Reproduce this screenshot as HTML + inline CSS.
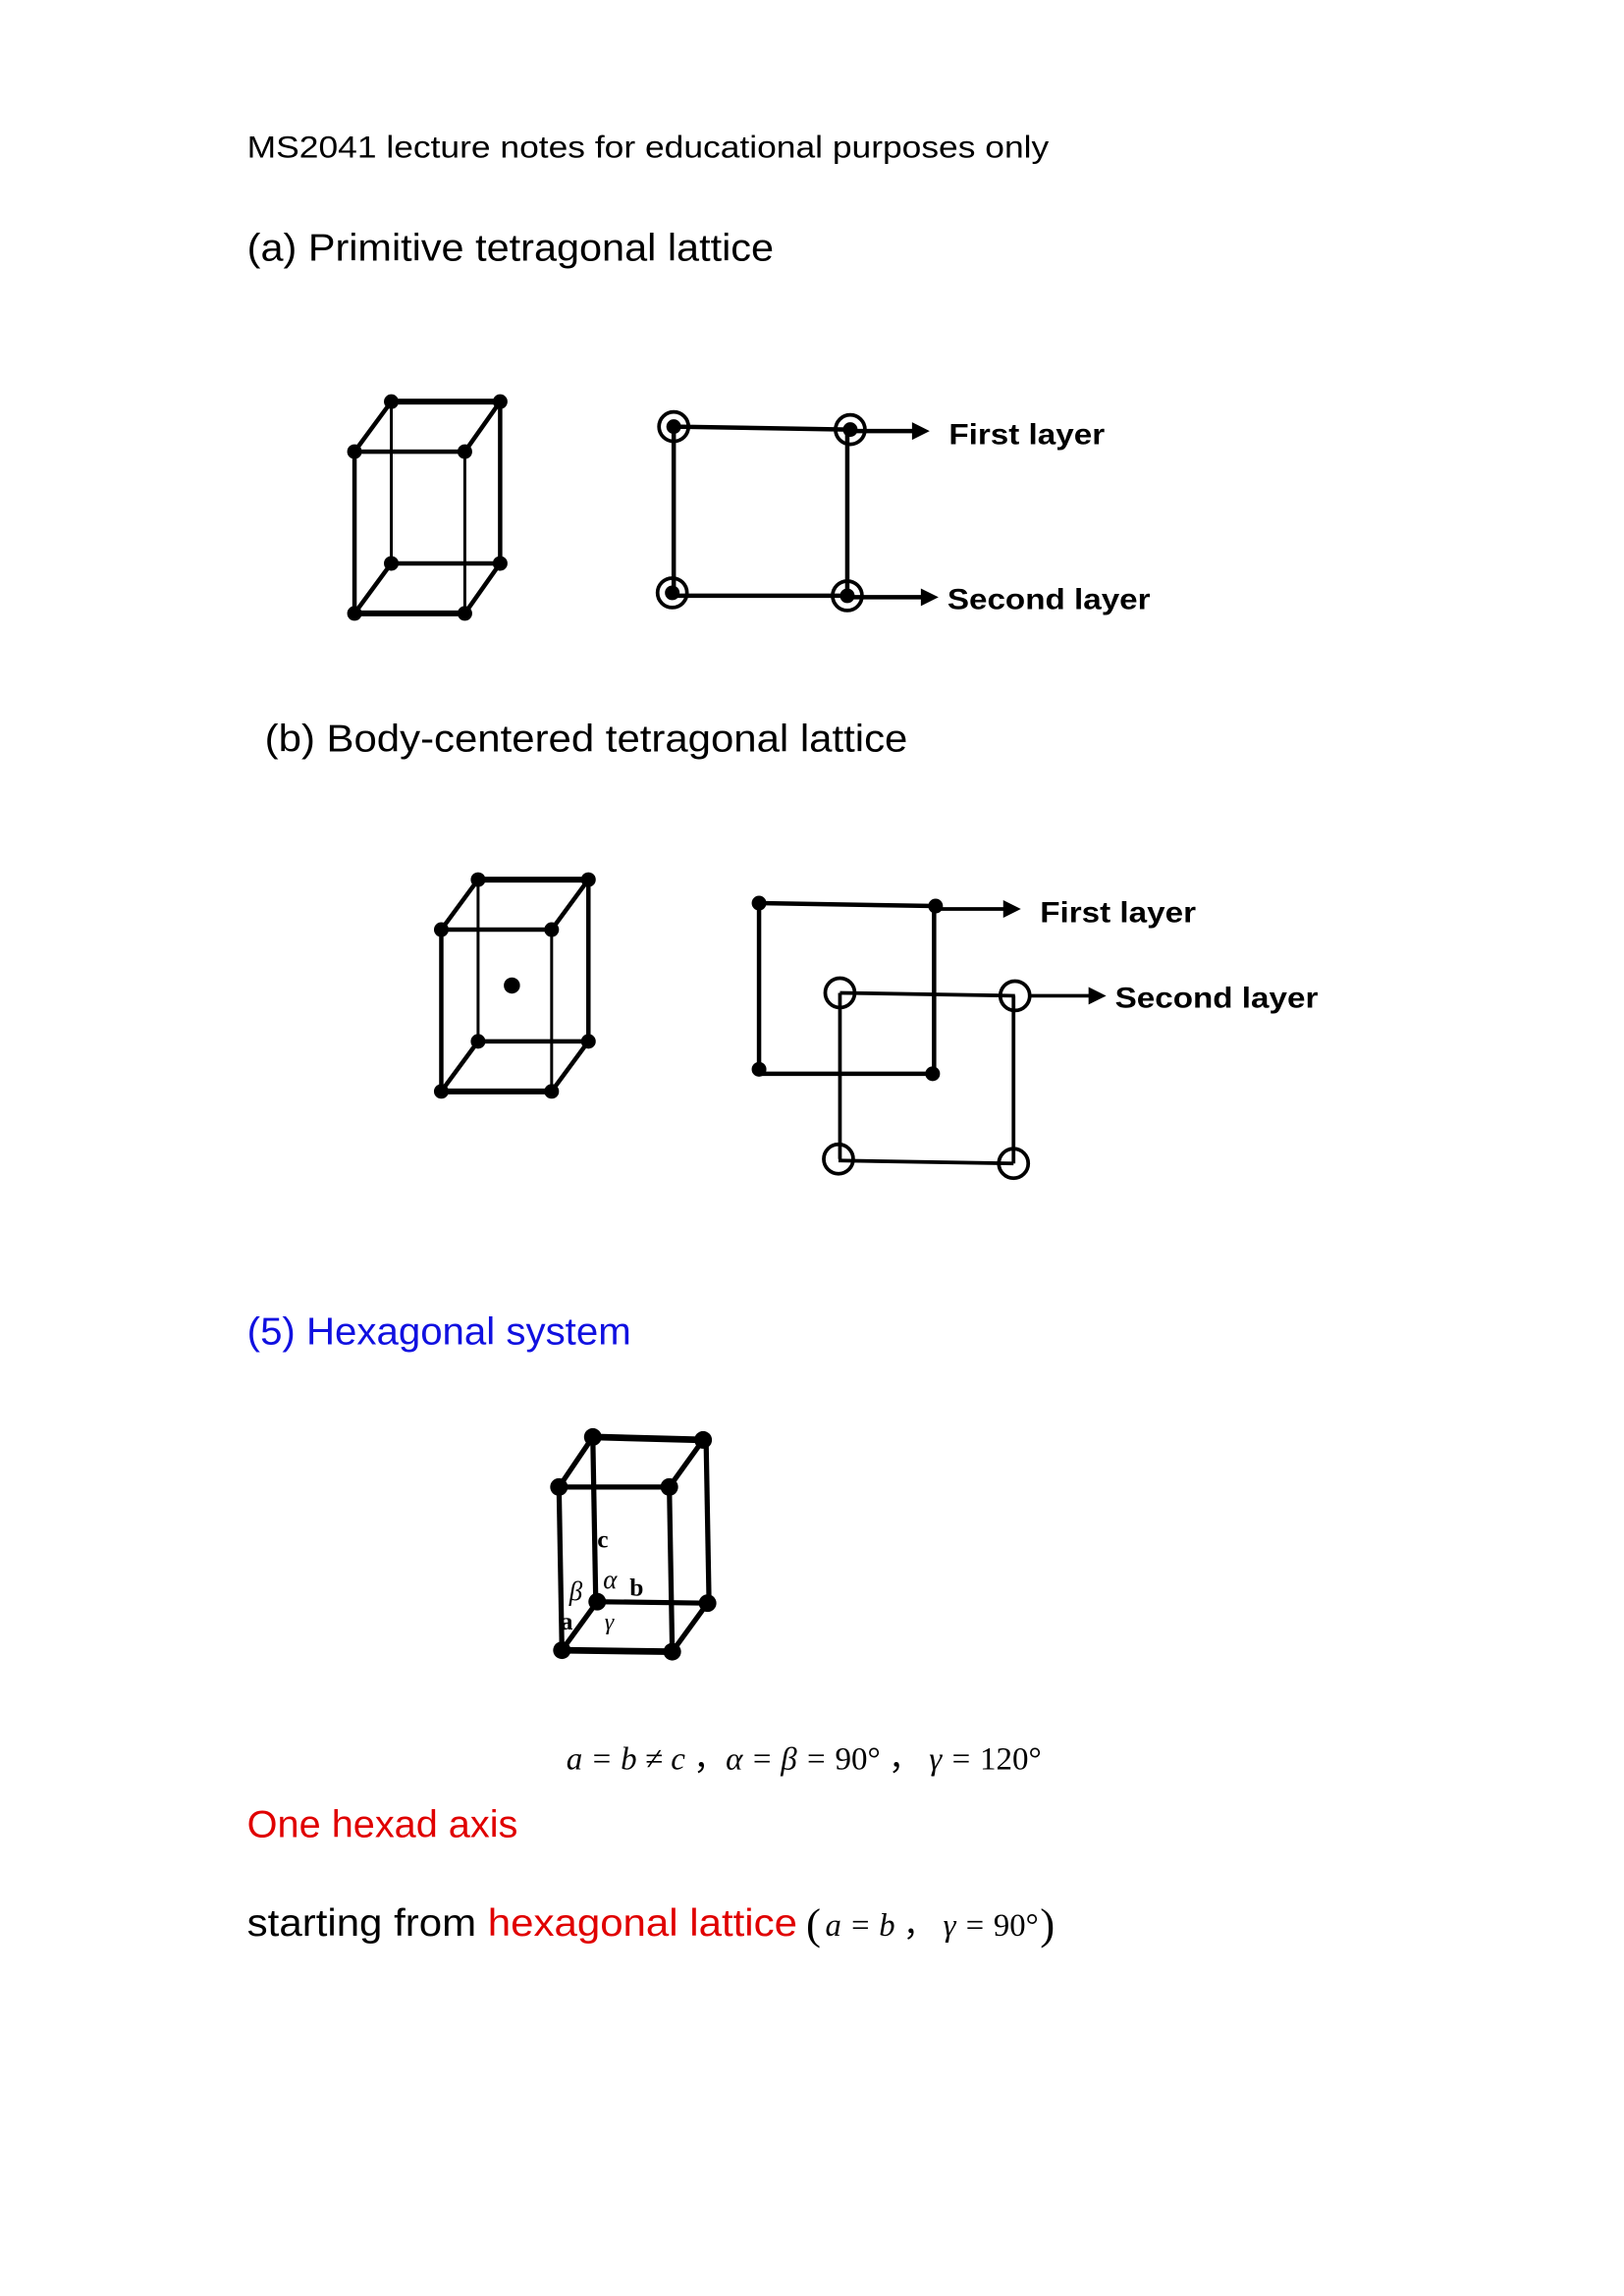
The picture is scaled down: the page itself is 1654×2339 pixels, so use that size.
<!DOCTYPE html>
<html><head><meta charset="utf-8"><style>
html,body{margin:0;padding:0;background:#fff;}
svg{display:block;}
.s{font-family:"Liberation Sans",sans-serif;}
.m{font-family:"Liberation Serif",serif;font-style:italic;}
.r{font-family:"Liberation Serif",serif;}
</style></head><body>
<svg width="1654" height="2339" viewBox="0 0 1104 1561" xmlns="http://www.w3.org/2000/svg">
<rect width="1104" height="1561" fill="#fff"/>
<text class="s" x="168" y="107" font-size="21" textLength="545" lengthAdjust="spacingAndGlyphs">MS2041 lecture notes for educational purposes only</text>
<text class="s" x="168" y="177" font-size="26" textLength="358" lengthAdjust="spacingAndGlyphs">(a) Primitive tetragonal lattice</text>

<g stroke="#000" stroke-width="3" fill="none">
<line x1="266" y1="273" x2="340" y2="273" stroke-width="4"/>
<line x1="241" y1="307" x2="316" y2="307"/>
<line x1="266" y1="383" x2="340" y2="383"/>
<line x1="241" y1="417" x2="316" y2="417" stroke-width="4"/>
<line x1="266" y1="273" x2="266" y2="383" stroke-width="2"/>
<line x1="340" y1="273" x2="340" y2="383"/>
<line x1="241" y1="307" x2="241" y2="417"/>
<line x1="316" y1="307" x2="316" y2="417" stroke-width="2"/>
<line x1="266" y1="273" x2="241" y2="307"/>
<line x1="340" y1="273" x2="316" y2="307"/>
<line x1="266" y1="383" x2="241" y2="417"/>
<line x1="340" y1="383" x2="316" y2="417"/>
</g>
<g fill="#000">
<circle cx="266" cy="273" r="5"/><circle cx="340" cy="273" r="5"/>
<circle cx="241" cy="307" r="5"/><circle cx="316" cy="307" r="5"/>
<circle cx="266" cy="383" r="5"/><circle cx="340" cy="383" r="5"/>
<circle cx="241" cy="417" r="5"/><circle cx="316" cy="417" r="5"/>
</g>

<g stroke="#000" stroke-width="3" fill="none">
<line x1="458" y1="290" x2="577" y2="292"/>
<line x1="458" y1="290" x2="458" y2="403"/>
<line x1="576" y1="292" x2="576" y2="405"/>
<line x1="458" y1="405" x2="576" y2="405"/>
<line x1="577" y1="293" x2="622" y2="293"/>
<line x1="576" y1="406" x2="628" y2="406"/>
<circle cx="458" cy="290" r="10" stroke-width="2.5"/>
<circle cx="578" cy="292" r="10" stroke-width="2.5"/>
<circle cx="457" cy="403" r="10" stroke-width="2.5"/>
<circle cx="576" cy="405" r="10" stroke-width="2.5"/>
</g>
<g fill="#000">
<circle cx="458" cy="290" r="5"/><circle cx="578" cy="292" r="5"/>
<circle cx="457" cy="403" r="5"/><circle cx="576" cy="405" r="5"/>
<polygon points="620,287 632,293 620,299"/>
<polygon points="626,400 638,406 626,412"/>
</g>
<text class="s" x="645" y="302" font-size="20" font-weight="bold" textLength="106" lengthAdjust="spacingAndGlyphs">First layer</text>
<text class="s" x="644" y="414" font-size="20" font-weight="bold" textLength="138" lengthAdjust="spacingAndGlyphs">Second layer</text>

<text class="s" x="180" y="511" font-size="26" textLength="437" lengthAdjust="spacingAndGlyphs">(b) Body-centered tetragonal lattice</text>

<g stroke="#000" stroke-width="3" fill="none">
<line x1="325" y1="598" x2="400" y2="598" stroke-width="4"/>
<line x1="300" y1="632" x2="375" y2="632"/>
<line x1="325" y1="708" x2="400" y2="708"/>
<line x1="300" y1="742" x2="375" y2="742" stroke-width="4"/>
<line x1="325" y1="598" x2="325" y2="708" stroke-width="2"/>
<line x1="400" y1="598" x2="400" y2="708"/>
<line x1="300" y1="632" x2="300" y2="742"/>
<line x1="375" y1="632" x2="375" y2="742" stroke-width="2"/>
<line x1="325" y1="598" x2="300" y2="632"/>
<line x1="400" y1="598" x2="375" y2="632"/>
<line x1="325" y1="708" x2="300" y2="742"/>
<line x1="400" y1="708" x2="375" y2="742"/>
</g>
<g fill="#000">
<circle cx="325" cy="598" r="5"/><circle cx="400" cy="598" r="5"/>
<circle cx="300" cy="632" r="5"/><circle cx="375" cy="632" r="5"/>
<circle cx="325" cy="708" r="5"/><circle cx="400" cy="708" r="5"/>
<circle cx="300" cy="742" r="5"/><circle cx="375" cy="742" r="5"/>
<circle cx="348" cy="670" r="5.5"/>
</g>

<g stroke="#000" stroke-width="3" fill="none">
<line x1="516" y1="614" x2="636" y2="616"/>
<line x1="516" y1="614" x2="516" y2="727"/>
<line x1="635" y1="616" x2="635" y2="730"/>
<line x1="516" y1="730" x2="634" y2="730"/>
<line x1="636" y1="618" x2="684" y2="618" stroke-width="2.5"/>
<line x1="571" y1="675" x2="690" y2="677" stroke-width="2.5"/>
<line x1="571" y1="675" x2="571" y2="788" stroke-width="2.5"/>
<line x1="689" y1="677" x2="689" y2="791" stroke-width="2.5"/>
<line x1="570" y1="789" x2="689" y2="791" stroke-width="2.5"/>
<line x1="700" y1="677" x2="742" y2="677" stroke-width="2.5"/>
<circle cx="571" cy="675" r="10" stroke-width="2.5"/>
<circle cx="690" cy="677" r="10" stroke-width="2.5"/>
<circle cx="570" cy="788" r="10" stroke-width="2.5"/>
<circle cx="689" cy="791" r="10" stroke-width="2.5"/>
</g>
<g fill="#000">
<circle cx="516" cy="614" r="5"/><circle cx="636" cy="616" r="5"/>
<circle cx="516" cy="727" r="5"/><circle cx="634" cy="730" r="5"/>
<polygon points="682,612 694,618 682,624"/>
<polygon points="740,671 752,677 740,683"/>
</g>
<text class="s" x="707" y="627" font-size="20" font-weight="bold" textLength="106" lengthAdjust="spacingAndGlyphs">First layer</text>
<text class="s" x="758" y="685" font-size="20" font-weight="bold" textLength="138" lengthAdjust="spacingAndGlyphs">Second layer</text>

<text class="s" x="168" y="914" font-size="26" fill="#1010e0" textLength="261" lengthAdjust="spacingAndGlyphs">(5) Hexagonal system</text>

<g stroke="#000" stroke-width="3.5" fill="none">
<line x1="403" y1="977" x2="478" y2="979" stroke-width="4.5"/>
<line x1="380" y1="1011" x2="455" y2="1011"/>
<line x1="406" y1="1089" x2="481" y2="1090"/>
<line x1="382" y1="1122" x2="457" y2="1123" stroke-width="4.5"/>
<line x1="403" y1="977" x2="405" y2="1089"/>
<line x1="480" y1="979" x2="482" y2="1090"/>
<line x1="380" y1="1011" x2="382" y2="1122"/>
<line x1="455" y1="1011" x2="457" y2="1123"/>
<line x1="403" y1="977" x2="380" y2="1011"/>
<line x1="478" y1="979" x2="455" y2="1011"/>
<line x1="406" y1="1089" x2="382" y2="1122"/>
<line x1="481" y1="1090" x2="457" y2="1123"/>
</g>
<g fill="#000">
<circle cx="403" cy="977" r="6"/><circle cx="478" cy="979" r="6"/>
<circle cx="380" cy="1011" r="6"/><circle cx="455" cy="1011" r="6"/>
<circle cx="406" cy="1089" r="6"/><circle cx="481" cy="1090" r="6"/>
<circle cx="382" cy="1122" r="6"/><circle cx="457" cy="1123" r="6"/>
</g>
<text class="r" x="406" y="1052" font-size="17" font-weight="bold">c</text>
<text class="r" x="428" y="1085" font-size="17" font-weight="bold">b</text>
<text class="r" x="381" y="1108" font-size="17" font-weight="bold">a</text>
<text class="m" x="387" y="1088" font-size="18">β</text>
<text class="m" x="410" y="1080" font-size="18">α</text>
<text class="m" x="411" y="1108" font-size="16">γ</text>

<text class="m" x="385" y="1203" font-size="22" textLength="323" lengthAdjust="spacingAndGlyphs">a = b ≠ c <tspan font-style="normal">，</tspan>α = β = <tspan font-style="normal">90°</tspan> <tspan font-style="normal">，</tspan> γ = <tspan font-style="normal">120°</tspan></text>

<text class="s" x="168" y="1249" font-size="26" fill="#e00000" textLength="184" lengthAdjust="spacingAndGlyphs">One hexad axis</text>
<text class="s" x="168" y="1316" font-size="26" textLength="374" lengthAdjust="spacingAndGlyphs">starting from <tspan fill="#e00000">hexagonal lattice</tspan></text>
<text class="r" x="548" y="1318" font-size="30">(</text>
<text class="m" x="561" y="1316" font-size="22" textLength="145" lengthAdjust="spacingAndGlyphs">a = b <tspan font-style="normal">，</tspan> γ = <tspan font-style="normal">90°</tspan></text>
<text class="r" x="707" y="1318" font-size="30">)</text>
</svg>
</body></html>
